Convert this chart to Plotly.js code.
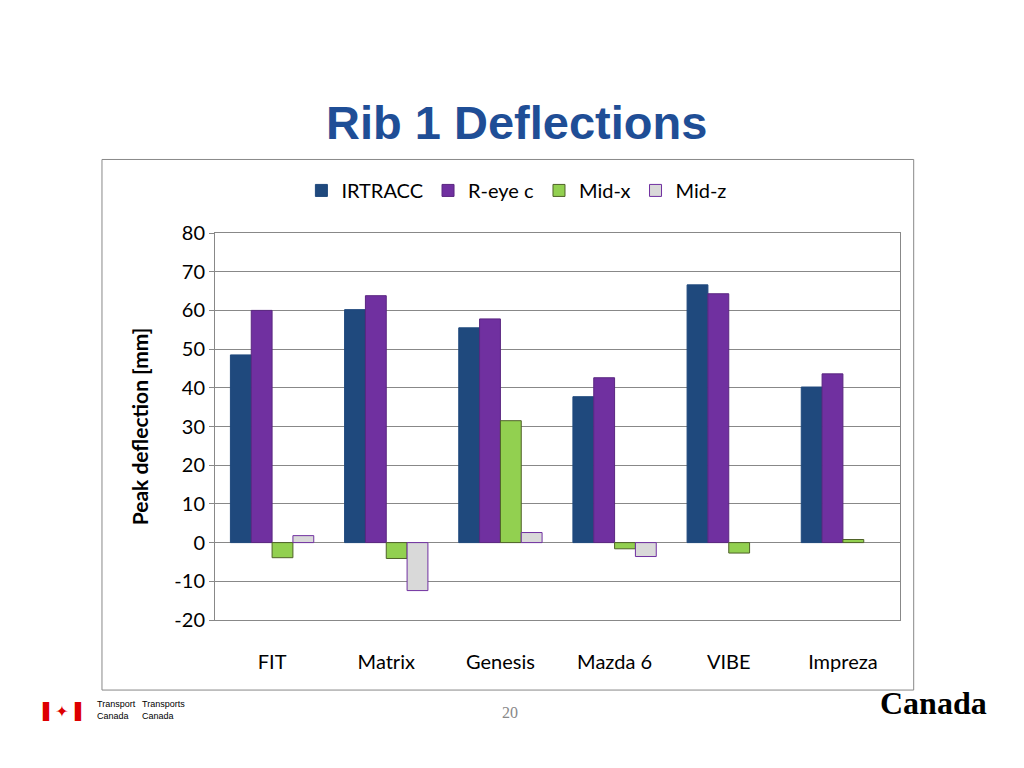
<!DOCTYPE html>
<html><head><meta charset="utf-8">
<script src="https://cdn.plot.ly/plotly-3.0.1.min.js"></script>
<style>body{margin:0;background:#fff}#c{width:1024px;height:768px}</style>
</head><body><div id="c"></div>
<script>
const categories = ["FIT","Matrix","Genesis","Mazda 6","VIBE","Impreza"];
const irtracc = [48.5, 60.2, 55.5, 37.7, 66.6, 40.2];
const reyec  = [60.0, 63.8, 57.8, 42.6, 64.3, 43.6];
const midx   = [-3.9, -4.1, 31.5, -1.6, -2.7, 0.8];
const midz   = [1.8, -12.4, 2.6, -3.6, null, null];
const yTicks = [-20,-10,0,10,20,30,40,50,60,70,80];
const yTickText = ["-20","-10","0","10","20","30","40","50","60","70","80"];

const f = {family:"Lato, 'Open Sans', sans-serif", size:20, color:"#000"};
function bar(name, y, color, line){
  return {type:"bar", name:name, x:categories, y:y,
    marker:{color:color, line:{color:line, width:1}}};
}
const data = [
  bar("IRTRACC", irtracc, "#1F497D", "#1F497D"),
  bar("R-eye c", reyec, "#7030A0", "#5a2680"),
  bar("Mid-x", midx, "#92D050", "#4f6228"),
  bar("Mid-z", midz, "#D9D9D9", "#7030A0")
];
const shapes = [
  {type:"rect", xref:"paper", yref:"paper", x0:-0.165, x1:1.02, y0:-0.181, y1:1.19,
   line:{color:"#888", width:1}}
];
const ann = [
  {text:"<b>Rib 1 Deflections</b>", xref:"paper", yref:"paper", x:0.44, y:1.285, yanchor:"middle",
   showarrow:false, font:{family:"Liberation Sans, Arial", size:47, color:"#1F4E96"}},
  {text:"20", xref:"paper", yref:"paper", x:0.43, y:-0.265, showarrow:false,
   font:{family:"Liberation Serif", size:16, color:"#888"}},
  {text:"<b>Canada</b>", xref:"paper", yref:"paper", x:1.13, y:-0.265, xanchor:"right", showarrow:false,
   font:{family:"Liberation Serif", size:32, color:"#000"}},
  {text:"Transport<br>Canada", xref:"paper", yref:"paper", x:-0.175, y:-0.265, xanchor:"left", showarrow:false, align:"left",
   font:{family:"Liberation Sans", size:9, color:"#000"}},
  {text:"Transports<br>Canada", xref:"paper", yref:"paper", x:-0.11, y:-0.265, xanchor:"left", showarrow:false, align:"left",
   font:{family:"Liberation Sans", size:9, color:"#000"}},
  {text:"<span style='color:#d00'>▌</span>✦<span style='color:#d00'>▐</span>", xref:"paper", yref:"paper", x:-0.255, y:-0.265, xanchor:"left", showarrow:false,
   font:{family:"DejaVu Sans", size:16, color:"#d00"}}
];
const layout = {
  width:1024, height:768, paper_bgcolor:"#fff", plot_bgcolor:"#fff",
  margin:{l:215, r:124, t:233, b:148},
  barmode:"group", bargap:0.27, bargroupgap:0,
  showlegend:true,
  legend:{orientation:"h", x:0.44, xanchor:"center", y:1.11, yanchor:"middle", font:f, bgcolor:"rgba(0,0,0,0)"},
  xaxis:{tickfont:f, showline:true, linecolor:"#888", mirror:true, ticks:"", ticklen:0, showgrid:false, zeroline:false, ticklabelstandoff:24},
  yaxis:{range:[-20,80], tickvals:yTicks, ticktext:yTickText, tickfont:f, showgrid:true, gridcolor:"#888", gridwidth:1,
    zeroline:true, zerolinecolor:"#888", ticks:"outside", ticklen:5, tickcolor:"#888", showline:true, linecolor:"#888", mirror:true,
    title:{text:"<b>Peak deflection [mm]</b>", font:{family:f.family, size:21, color:"#000"}, standoff:20}},
  shapes:shapes,
  annotations:ann,
  font:f
};
Plotly.newPlot("c", data, layout, {staticPlot:true});
</script></body></html>
